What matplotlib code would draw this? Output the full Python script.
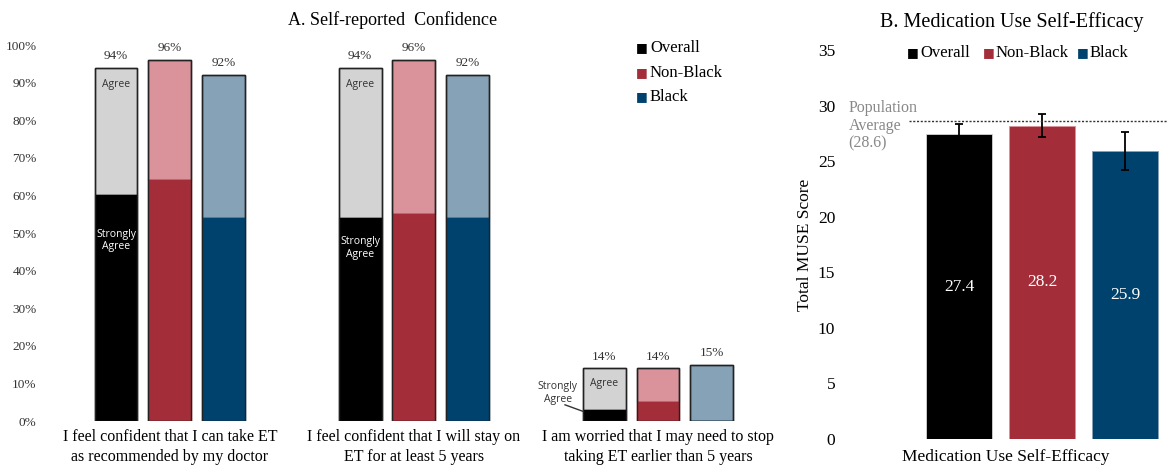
import numpy as np
import matplotlib.pyplot as plt

plt.rcParams['font.family'] = ['Liberation Serif', 'DejaVu Serif']

# ---- data ----
questions = ["I feel confident that I can take ET\nas recommended by my doctor",
             "I feel confident that I will stay on\nET for at least 5 years",
             "I am worried that I may need to stop\ntaking ET earlier than 5 years"]
groups = ["Overall", "Non-Black", "Black"]
strongly_agree = {"Overall": [60, 54, 3], "Non-Black": [64, 55, 5], "Black": [54, 54, 0]}
total_agree = {"Overall": [94, 94, 14], "Non-Black": [96, 96, 14], "Black": [92, 92, 15]}

muse_mean = [27.4, 28.2, 25.9]
muse_err = [0.9, 1.0, 1.7]
pop_avg = 28.6

dark = {"Overall": "#000000", "Non-Black": "#A32D38", "Black": "#00426E"}
light = {"Overall": "#D3D3D3", "Non-Black": "#DA939A", "Black": "#86A2B7"}

W, H = 1167, 467
fig = plt.figure(figsize=(W / 100, H / 100), dpi=100)


def px_axes(x0, y0, x1, y1):
    # pixel box (top-left origin) -> figure axes
    return fig.add_axes([x0 / W, 1 - y1 / H, (x1 - x0) / W, (y1 - y0) / H])


sans = ['Open Sans', 'DejaVu Sans']

# ---- panel A ----
axA = px_axes(45, 45, 760, 421)
x = np.arange(len(questions))
offs = [-0.221, 0, 0.221]
bw = 0.176
for i, g in enumerate(groups):
    sa = np.array(strongly_agree[g])
    tot = np.array(total_agree[g])
    xs = x + offs[i]
    axA.bar(xs, tot - sa, bw, bottom=sa, color=light[g], edgecolor='#222222', lw=1.0)
    axA.bar(xs, sa, bw, color=dark[g], edgecolor=dark[g], lw=1.0)
    # outline of whole bar
    axA.bar(xs, tot, bw, color='none', edgecolor='#222222', lw=1.0)
    for xi, t in zip(xs, tot):
        axA.text(xi, t + 1.5, f"{t}%", ha='center', va='bottom', fontsize=9.5, color='#333333')

axA.set_ylim(0, 100)
axA.set_xlim(-0.512, 2.418)
axA.set_yticks(np.arange(0, 101, 10))
axA.set_yticklabels([f"{v}%" for v in range(0, 101, 10)], fontsize=9.5, color='#333333')
axA.set_xticks(x)
axA.set_xticklabels(questions, fontsize=11.5, linespacing=1.3)
axA.tick_params(length=0, pad=6)
axA.tick_params(axis='x', pad=6)
for s in axA.spines.values():
    s.set_visible(False)

# inner labels
xo = x[0] + offs[0]
axA.text(xo, 91, "Agree", ha='center', va='top', fontsize=7.5, family=sans, color='#333333')
axA.text(xo, 48, "Strongly\nAgree", ha='center', va='center', fontsize=7.5, family=sans, color='white')
xo = x[1] + offs[0]
axA.text(xo, 91, "Agree", ha='center', va='top', fontsize=7.5, family=sans, color='#333333')
axA.text(xo, 46, "Strongly\nAgree", ha='center', va='center', fontsize=7.5, family=sans, color='white')
xo = x[2] + offs[0]
axA.text(xo, 11.5, "Agree", ha='center', va='top', fontsize=7.5, family=sans, color='#333333')
axA.text(xo - 0.19, 7.5, "Strongly\nAgree", ha='center', va='center', fontsize=7.5,
         family=sans, color='#333333')
axA.plot([xo - 0.16, xo - bw / 2], [4.3, 2.6], color='#333333', lw=1)

fig.text(393 / W, 1 - 20 / H, "A. Self-reported  Confidence", ha='center', va='center', fontsize=13)

# legend A
for i, g in enumerate(groups):
    yy = 1 - (48 + i * 24.5) / H
    fig.text(636 / W, yy, "\u25A0", color=dark[g], fontsize=9, va='center', ha='left',
             family=['DejaVu Sans'])
    fig.text(650 / W, yy, g, fontsize=12, va='center', ha='left')

# ---- panel B ----
axB = px_axes(845, 50, 1167, 439)
xb = np.arange(len(groups))
for i, g in enumerate(groups):
    axB.bar(xb[i], muse_mean[i], 0.795, color=dark[g], edgecolor=light[g], lw=0.6)
    axB.errorbar(xb[i], muse_mean[i], yerr=muse_err[i], color='black', capsize=3,
                 elinewidth=1.3, capthick=1.3)
    axB.text(xb[i], muse_mean[i] / 2, f"{muse_mean[i]}", ha='center', va='center',
             color='white', fontsize=12.5)
axB.axhline(pop_avg, xmin=(909 - 845) / (1167 - 845), xmax=1, color='#333333',
            ls=(0, (1.5, 1.2)), lw=1)
axB.text(-1.33, 30.5, "Population\nAverage\n(28.6)", ha='left', va='top', fontsize=11.5,
         color='#888888', linespacing=1.15)
axB.set_xlim(-1.373, 2.506)
axB.set_ylim(0, 35)
axB.set_yticks(np.arange(0, 36, 5))
axB.tick_params(length=0, pad=7, labelsize=12.5)
axB.set_xticks([])
for s in axB.spines.values():
    s.set_visible(False)
axB.set_xlabel("Medication Use Self-Efficacy", fontsize=12.5, labelpad=7)
fig.text(805 / W, 1 - 245 / H, "Total MUSE Score", rotation=90, ha='center', va='center', fontsize=12.5)
fig.text(1012 / W, 1 - 22 / H, "B. Medication Use Self-Efficacy", ha='center', va='center', fontsize=14.5)

# legend B
leg_x = [907, 983, 1077]
for i, g in enumerate(groups):
    fig.text(leg_x[i] / W, 1 - 53 / H, "\u25A0", color=dark[g], fontsize=9, va='center', ha='left',
             family=['DejaVu Sans'])
    fig.text((leg_x[i] + 13) / W, 1 - 53 / H, g, fontsize=12, va='center', ha='left')

fig.savefig("out.png", dpi=100)
